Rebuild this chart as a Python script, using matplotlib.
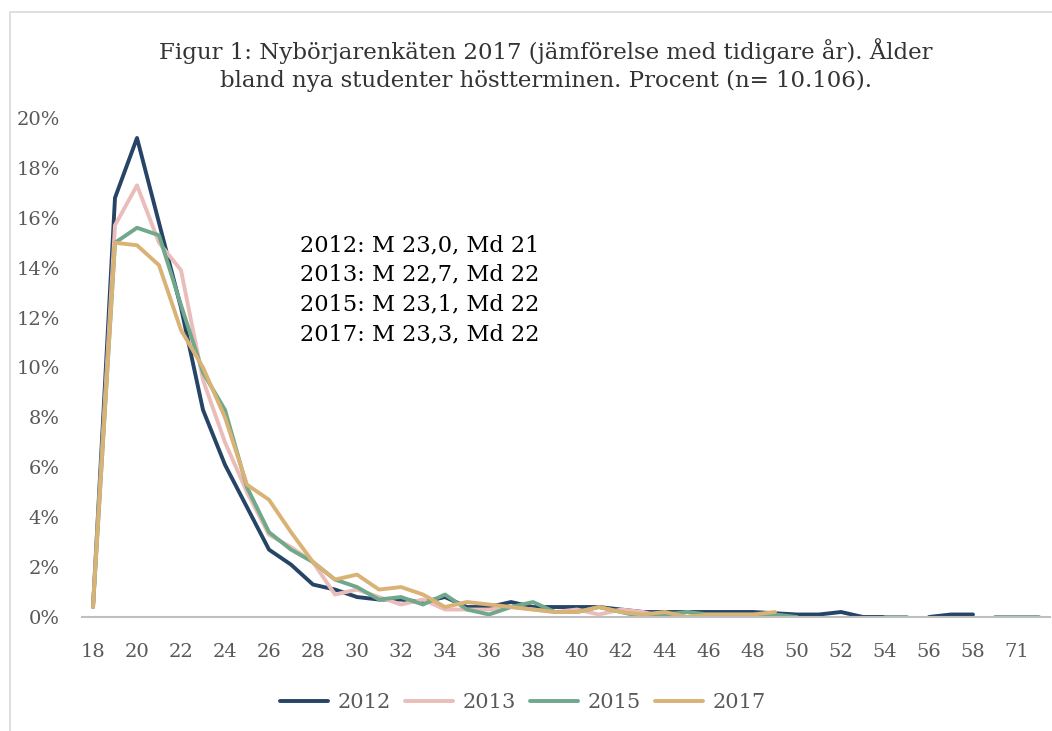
import numpy as np
import matplotlib
matplotlib.use("Agg")
import matplotlib.pyplot as plt
from matplotlib.patches import Rectangle

nan = np.nan
ages = [str(a) for a in range(18, 59)] + ["62", "71", "75"]

y2012 = [0.4, 16.8, 19.2, 15.8, 12.4, 8.3, 6.1, 4.4, 2.7, 2.1, 1.3, 1.1, 0.8, 0.7, 0.7, 0.6, 0.8,
         0.4, 0.4, 0.6, 0.4, 0.4, 0.4, 0.4, 0.3, 0.2, 0.2, 0.2, 0.2, 0.2, 0.2, 0.15, 0.1, 0.1, 0.2,
         0.0, 0.0, nan, 0.0, 0.1, 0.1, nan, nan, nan]
y2013 = [0.4, 15.7, 17.3, 15.0, 13.9, 9.5, 7.0, 5.0, 3.3, 2.8, 2.2, 0.9, 1.1, 0.8, 0.5, 0.7, 0.3,
         0.3, 0.3, 0.4, 0.3, 0.2, 0.3, 0.1, 0.3, 0.2, 0.0, 0.2, 0.0, 0.0, nan, nan, nan, nan, nan,
         nan, nan, nan, nan, nan, nan, nan, nan, nan]
y2015 = [0.4, 15.0, 15.6, 15.3, 12.5, 9.8, 8.3, 5.2, 3.4, 2.7, 2.2, 1.5, 1.2, 0.7, 0.8, 0.5, 0.9,
         0.3, 0.1, 0.4, 0.6, 0.2, 0.2, 0.4, 0.2, 0.0, 0.1, 0.2, 0.1, 0.1, 0.1, 0.1, 0.0, nan, nan,
         nan, 0.0, 0.0, nan, nan, nan, 0.0, 0.0, 0.0]
y2017 = [0.4, 15.0, 14.9, 14.1, 11.5, 10.0, 8.0, 5.3, 4.7, 3.4, 2.2, 1.5, 1.7, 1.1, 1.2, 0.9, 0.4,
         0.6, 0.5, 0.4, 0.3, 0.2, 0.2, 0.4, 0.2, 0.1, 0.2, 0.0, 0.1, 0.1, 0.1, 0.2, nan, nan, nan,
         nan, nan, nan, nan, nan, nan, nan, nan, nan]

series = [("2012", y2012, "#264466"), ("2013", y2013, "#EBBDBA"),
          ("2015", y2015, "#6FA88A"), ("2017", y2017, "#D9B275")]

stats = ["2012: M 23,0, Md 21", "2013: M 22,7, Md 22", "2015: M 23,1, Md 22", "2017: M 23,3, Md 22"]
title = "Figur 1: Nybörjarenkäten 2017 (jämförelse med tidigare år). Ålder\nbland nya studenter höstterminen. Procent (n= 10.106)."

plt.rcParams['font.family'] = ['DejaVu Serif']

W, H = 1052, 731
fig = plt.figure(figsize=(W / 100, H / 100), dpi=100)
fig.patches.append(Rectangle((10 / W, -0.1), 1.2, 1 - 12 / H + 0.1, transform=fig.transFigure,
                             fill=False, edgecolor="#D9D9D9", linewidth=1.2))

ax = fig.add_axes([82 / W, 1 - 617 / H, (1050 - 82) / W, (617 - 118) / H])
x = np.arange(len(ages))
for name, vals, col in series:
    ax.plot(x, np.array(vals, dtype=float), color=col, linewidth=2.8, label=name,
            solid_capstyle="round", solid_joinstyle="round")

ax.set_xlim(-0.5, len(ages) - 0.5)
ax.set_ylim(0, 20)
ax.set_yticks(np.arange(0, 21, 2))
ax.set_yticklabels([f"{v}%" for v in range(0, 21, 2)])
ax.set_xticks(x[::2])
ax.set_xticklabels(ages[::2])
for s in ["top", "right", "left"]:
    ax.spines[s].set_visible(False)
ax.spines["bottom"].set_color("#BFBFBF")
ax.spines["bottom"].set_linewidth(1.5)
ax.tick_params(axis="both", length=0, labelsize=14, colors="#595959")
ax.tick_params(axis="x", pad=19)
ax.tick_params(axis="y", pad=16)

fig.text(0.519, 1 - 65 / H, title, ha="center", va="center", fontsize=16.5,
         color="#333333", linespacing=1.35)

for i, s in enumerate(stats):
    fig.text(300 / W, 1 - (245 + i * 29.7) / H, s, ha="left", va="center", fontsize=16.2, color="black")

leg = fig.legend(loc="center", bbox_to_anchor=(523 / W, 1 - 703 / H), ncol=4, frameon=False,
                 fontsize=15, handlelength=2.3, columnspacing=0.7, handletextpad=0.45)
for t in leg.get_texts():
    t.set_color("#595959")

fig.savefig("out.png", dpi=100)
